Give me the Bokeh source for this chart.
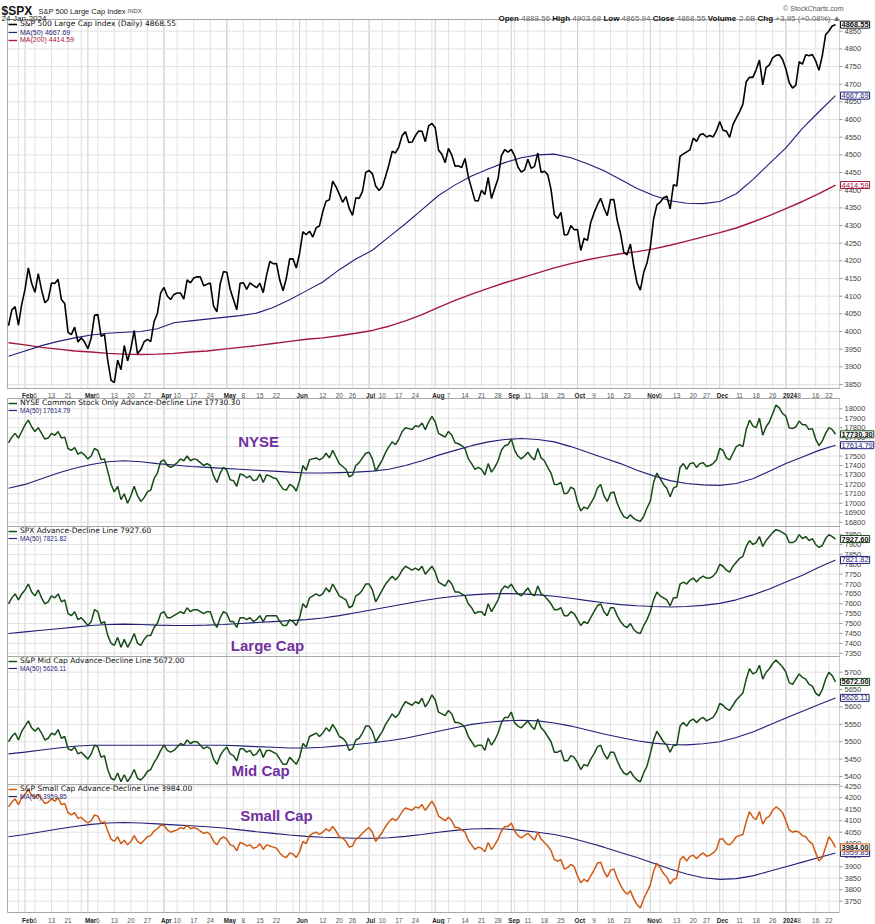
import pandas as pd
from bokeh.plotting import figure
from bokeh.models import Range1d, Label, Legend, LegendItem
from bokeh.core.properties import value
from bokeh.embed import file_html
from bokeh.resources import INLINE

# ---------------- DATA ----------------
HOLIDAYS = ["2023-02-20", "2023-04-07", "2023-05-29", "2023-06-19", "2023-07-04",
            "2023-09-04", "2023-11-23", "2023-12-25", "2024-01-01", "2024-01-15"]

spx_close = [
    4016.22, 4060.43, 4070.56, 4017.77, 4076.60,
    4119.21, 4179.76, 4136.48, 4111.08, 4164.00, 4117.86, 4081.50, 4090.46, 4137.29, 4136.13, 4147.60, 4090.41, 4079.09, 3997.34, 3991.05, 4012.32, 3970.04, 3982.24, 3970.15,
    3951.39, 3981.35, 4045.64, 4048.42, 3986.37, 3992.01, 3918.32, 3861.59, 3855.76, 3919.29, 3891.93, 3960.28, 3916.64, 3951.57, 4002.87, 3936.97, 3948.72, 3970.99, 3977.53, 3971.27, 4027.81, 4050.83, 4109.31,
    4124.51, 4100.60, 4090.38, 4105.02, 4109.11, 4108.94, 4091.95, 4146.22, 4137.64, 4151.32, 4154.87, 4154.52, 4129.79, 4133.52, 4137.04, 4071.63, 4055.99, 4135.35, 4169.48,
    4167.87, 4119.58, 4090.75, 4061.22, 4136.25, 4138.12, 4119.17, 4137.64, 4130.62, 4124.08, 4136.28, 4109.90, 4158.77, 4198.05, 4191.98, 4192.63, 4145.58, 4115.24, 4151.28, 4205.45, 4205.52, 4179.83,
    4221.02, 4282.37, 4273.79, 4283.85, 4267.52, 4293.93, 4298.86, 4338.93, 4369.01, 4372.59, 4425.84, 4409.59, 4388.71, 4365.69, 4381.89, 4348.33, 4328.82, 4378.41, 4376.86, 4396.44, 4450.38,
    4455.59, 4446.82, 4411.59, 4398.95, 4409.53, 4439.26, 4472.16, 4510.04, 4505.42, 4522.79, 4554.98, 4565.72, 4534.87, 4536.34, 4554.64, 4567.46, 4566.75, 4537.41, 4582.23, 4588.96,
    4576.73, 4513.39, 4501.89, 4478.03, 4518.44, 4499.38, 4467.71, 4468.83, 4464.05, 4489.72, 4437.86, 4404.33, 4370.36, 4369.71, 4399.77, 4387.55, 4436.01, 4376.31, 4405.71, 4433.31, 4497.63, 4514.87, 4507.66,
    4515.77, 4496.83, 4465.48, 4451.14, 4457.49, 4487.46, 4461.90, 4467.44, 4505.10, 4450.32, 4453.53, 4443.95, 4402.20, 4330.00, 4320.06, 4337.44, 4273.53, 4274.51, 4299.70, 4288.05,
    4288.39, 4229.45, 4263.75, 4258.19, 4308.50, 4335.66, 4358.24, 4376.95, 4349.61, 4327.78, 4373.63, 4373.20, 4314.60, 4278.00, 4224.16, 4217.04, 4247.68, 4186.77, 4137.23, 4117.37, 4166.82, 4193.80,
    4237.86, 4317.78, 4358.34, 4365.98, 4378.38, 4382.78, 4347.35, 4415.24, 4411.55, 4495.70, 4502.88, 4508.24, 4514.02, 4547.38, 4538.19, 4556.62, 4559.34, 4550.43, 4554.89, 4550.58, 4567.80,
    4594.63, 4569.78, 4567.18, 4549.34, 4585.59, 4604.37, 4622.44, 4643.70, 4707.09, 4719.55, 4719.19, 4740.56, 4768.37, 4698.35, 4746.75, 4754.63, 4774.75, 4781.58, 4783.35, 4769.83,
    4742.83, 4704.81, 4688.68, 4697.24, 4763.54, 4756.50, 4783.45, 4780.24, 4783.83, 4765.98, 4739.21, 4780.94, 4839.81, 4850.43, 4864.60, 4868.55]

# moving averages, read weekly (every 5th session)
spx_ma50 = [3930, 3945, 3960, 3972, 3982, 3990, 3995, 3998, 4000, 4008,
            4025, 4030, 4035, 4040, 4045, 4052, 4068, 4090, 4115, 4140,
            4175, 4205, 4230, 4268, 4305, 4345, 4385, 4415, 4440, 4460,
            4478, 4492, 4500, 4502, 4492, 4475, 4455, 4430, 4405, 4385,
            4370, 4363, 4362, 4368, 4390, 4430, 4475, 4520, 4575, 4622, 4667.69]
spx_ma200 = [3968, 3962, 3955, 3950, 3945, 3942, 3938, 3936, 3935, 3936,
             3938, 3942, 3945, 3950, 3955, 3960, 3966, 3972, 3978, 3982,
             3988, 3995, 4003, 4015, 4030, 4048, 4068, 4088, 4106, 4122,
             4138, 4152, 4166, 4180, 4192, 4203, 4212, 4220, 4226, 4234,
             4244, 4256, 4268, 4280, 4293, 4310, 4328, 4348, 4368, 4390, 4414.59]

nyse_ad = [
    17640, 17700, 17740, 17690, 17760,
    17830, 17880, 17810, 17760, 17800, 17740, 17680, 17690, 17740, 17720, 17760, 17690, 17700, 17580, 17560, 17590, 17520, 17540, 17510,
    17470, 17500, 17580, 17560, 17460, 17470, 17340, 17200, 17120, 17180, 17040, 17100, 17000, 17080, 17180, 17080, 17020, 17060, 17120, 17140, 17260, 17320, 17440,
    17460, 17400, 17380, 17400, 17430, 17470, 17450, 17500, 17450, 17470, 17460, 17430, 17400, 17420, 17400, 17290, 17220, 17320, 17380,
    17350, 17250, 17240, 17180, 17310, 17300, 17270, 17290, 17240, 17250, 17310, 17220, 17300, 17290, 17270, 17260, 17200, 17150, 17140, 17200, 17180, 17130,
    17240, 17400, 17350, 17460, 17470, 17480, 17460, 17480, 17530, 17480, 17560, 17490, 17420, 17390, 17360, 17280, 17300, 17400, 17430, 17480, 17530,
    17540, 17470, 17340, 17400, 17460, 17540, 17600, 17650, 17620, 17680, 17760, 17800, 17790, 17780, 17820, 17810, 17850, 17780, 17860, 17920,
    17860, 17740, 17720, 17700, 17760, 17720, 17640, 17630, 17610, 17580, 17470, 17420, 17360, 17380, 17360, 17300, 17420, 17330, 17380, 17450, 17560, 17610, 17620,
    17680, 17560, 17500, 17470, 17500, 17540, 17490, 17460, 17580, 17480, 17450, 17380, 17320, 17200, 17200, 17220, 17100, 17110, 17170, 17150,
    17010, 16920, 16960, 16940, 17000, 17060, 17160, 17200, 17080, 17020, 17110, 17120, 17000, 16920, 16860, 16840, 16880, 16840, 16820, 16810, 16860, 16950,
    17020, 17220, 17320, 17260, 17200, 17160, 17070, 17160, 17180, 17380, 17420, 17360, 17420, 17430, 17380, 17420, 17430, 17390, 17400, 17420, 17460,
    17580, 17560, 17480, 17460, 17530, 17600, 17620, 17600, 17780, 17880, 17820, 17800, 17900, 17720, 17810, 17860, 17950, 18040, 18010, 17950,
    17920, 17800, 17790, 17810, 17870, 17830, 17830, 17780, 17790, 17680, 17610, 17660, 17740, 17800, 17780, 17730.30]
nyse_ma50 = [17160, 17200, 17260, 17320, 17370, 17410, 17440, 17450, 17440, 17420,
             17405, 17390, 17380, 17370, 17360, 17350, 17340, 17330, 17320, 17320,
             17325, 17330, 17340, 17360, 17400, 17450, 17510, 17560, 17610, 17650,
             17675, 17685, 17675, 17650, 17600, 17540, 17480, 17420, 17350, 17290,
             17240, 17210, 17195, 17190, 17210, 17260, 17340, 17420, 17490, 17560, 17614.79]

spx_ad = [
    7600, 7630, 7650, 7620, 7650,
    7670, 7700, 7660, 7640, 7670, 7630, 7600, 7610, 7640, 7630, 7650, 7610, 7620, 7550, 7540, 7560, 7520, 7530, 7510,
    7490, 7510, 7570, 7560, 7500, 7510, 7440, 7400, 7390, 7430, 7380, 7420, 7380, 7410, 7450, 7400, 7390, 7420, 7440, 7440, 7480, 7500, 7550,
    7560, 7530, 7530, 7540, 7550, 7560, 7550, 7580, 7560, 7570, 7570, 7560, 7550, 7560, 7560, 7510, 7480, 7530, 7560,
    7550, 7510, 7510, 7480, 7530, 7530, 7520, 7530, 7510, 7520, 7540, 7510, 7540, 7540, 7540, 7540, 7510, 7490, 7490, 7520, 7510, 7490,
    7530, 7600, 7580, 7630, 7640, 7650, 7640, 7650, 7680, 7660, 7700, 7670, 7640, 7630, 7620, 7580, 7590, 7640, 7650, 7670, 7700,
    7700, 7670, 7610, 7640, 7670, 7700, 7720, 7740, 7720, 7740, 7770, 7790, 7780, 7770, 7780, 7770, 7790, 7750, 7770, 7790,
    7760, 7710, 7700, 7690, 7720, 7700, 7660, 7660, 7650, 7640, 7600, 7580, 7550, 7560, 7560, 7540, 7600, 7560, 7590, 7620, 7670, 7690, 7680,
    7700, 7670, 7650, 7640, 7660, 7680, 7650, 7640, 7690, 7650, 7640, 7620, 7600, 7570, 7570, 7580, 7540, 7540, 7560, 7550,
    7520, 7490, 7510, 7500, 7530, 7560, 7590, 7600, 7560, 7540, 7580, 7580, 7540, 7510, 7490, 7480, 7500, 7470, 7455, 7450, 7490, 7520,
    7560, 7620, 7660, 7640, 7630, 7620, 7590, 7630, 7630, 7700, 7710, 7700, 7720, 7730, 7710, 7730, 7740, 7730, 7730, 7740, 7760,
    7800, 7790, 7770, 7760, 7790, 7810, 7830, 7840, 7890, 7920, 7900, 7910, 7940, 7890, 7920, 7940, 7960, 7975, 7970, 7960,
    7950, 7910, 7910, 7920, 7950, 7930, 7940, 7920, 7930, 7900, 7885, 7895, 7930, 7950, 7940, 7927.60]
spx_ad_ma50 = [7450, 7458, 7466, 7474, 7482, 7490, 7495, 7497, 7495, 7492,
               7490, 7490, 7492, 7495, 7500, 7505, 7510, 7515, 7520, 7528,
               7540, 7555, 7570, 7585, 7600, 7615, 7628, 7638, 7645, 7650,
               7652, 7650, 7645, 7638, 7628, 7616, 7605, 7596, 7590, 7586,
               7584, 7586, 7592, 7602, 7620, 7645, 7675, 7710, 7745, 7785, 7821.82]

mid_ad = [
    5500, 5515, 5525, 5505, 5530,
    5545, 5560, 5540, 5530, 5540, 5525, 5505, 5510, 5525, 5520, 5535, 5510, 5515, 5480, 5475, 5485, 5465, 5470, 5460,
    5450, 5465, 5490, 5485, 5455, 5460, 5420, 5395, 5390, 5410, 5385, 5405, 5385, 5400, 5420, 5395, 5390, 5400, 5415, 5420, 5440, 5455, 5475,
    5490, 5475, 5470, 5475, 5485, 5495, 5490, 5505, 5495, 5500, 5500, 5490, 5480, 5485, 5480, 5450, 5435, 5460, 5475,
    5485, 5465, 5460, 5445, 5480, 5480, 5470, 5475, 5460, 5465, 5480, 5455, 5475, 5475, 5470, 5465, 5450, 5435, 5435, 5455, 5445, 5435,
    5455, 5495, 5485, 5515, 5520, 5525, 5515, 5525, 5540, 5530, 5550, 5535, 5515, 5510, 5500, 5475, 5480, 5505, 5510, 5525, 5545,
    5545, 5530, 5500, 5515, 5530, 5550, 5565, 5580, 5570, 5580, 5600, 5615, 5610, 5605, 5615, 5610, 5625, 5600, 5615, 5635,
    5620, 5585, 5580, 5575, 5590, 5580, 5555, 5555, 5550, 5540, 5515, 5500, 5485, 5490, 5490, 5475, 5510, 5490, 5505, 5525, 5555, 5570, 5570,
    5585, 5555, 5545, 5540, 5550, 5560, 5545, 5535, 5565, 5540, 5530, 5515, 5500, 5470, 5470, 5475, 5445, 5445, 5460, 5455,
    5440, 5420, 5435, 5430, 5450, 5465, 5485, 5490, 5465, 5450, 5470, 5470, 5445, 5425, 5410, 5405, 5415, 5400, 5390, 5385, 5410, 5430,
    5465, 5505, 5530, 5515, 5500, 5490, 5470, 5490, 5490, 5545, 5555, 5545, 5560, 5565, 5555, 5565, 5570, 5560, 5565, 5570, 5585,
    5610, 5605, 5595, 5590, 5605, 5620, 5630, 5640, 5680, 5710, 5695, 5700, 5720, 5680, 5700, 5710, 5725, 5735, 5725, 5715,
    5700, 5670, 5665, 5680, 5695, 5685, 5680, 5665, 5660, 5640, 5632, 5650, 5680, 5700, 5690, 5672.00]
mid_ma50 = [5465, 5470, 5476, 5482, 5487, 5490, 5490, 5490, 5490, 5490,
            5490, 5490, 5490, 5490, 5488, 5486, 5484, 5482, 5482, 5484,
            5488, 5492, 5497, 5503, 5510, 5520, 5530, 5540, 5550, 5556,
            5560, 5562, 5560, 5554, 5545, 5534, 5522, 5512, 5503, 5496,
            5492, 5491, 5494, 5500, 5512, 5528, 5548, 5568, 5588, 5607, 5626.11]

small_ad = [
    4160, 4180, 4195, 4170, 4200,
    4215, 4235, 4210, 4200, 4215, 4195, 4175, 4180, 4195, 4185, 4200, 4170, 4175, 4135, 4125, 4135, 4110, 4115, 4100,
    4090, 4100, 4125, 4120, 4090, 4095, 4055, 4020, 4010, 4030, 4000, 4015, 3995, 4010, 4035, 4010, 4000, 4015, 4030, 4035, 4055, 4065, 4080,
    4080, 4060, 4050, 4055, 4060, 4070, 4065, 4080, 4065, 4070, 4065, 4055, 4045, 4050, 4040, 4010, 3995, 4020, 4030,
    4020, 3995, 3990, 3970, 4005, 4000, 3990, 3995, 3980, 3985, 4000, 3975, 3995, 3990, 3985, 3980, 3960, 3945, 3940, 3960, 3955, 3940,
    3965, 4010, 4000, 4035, 4045, 4050, 4040, 4050, 4065, 4055, 4075, 4055, 4030, 4025, 4010, 3985, 3990, 4020, 4030, 4045, 4060,
    4070, 4050, 4010, 4030, 4050, 4075, 4095, 4110, 4100, 4115, 4140, 4155, 4150, 4145, 4160, 4155, 4170, 4145, 4165, 4185,
    4160, 4120, 4110, 4100, 4115, 4100, 4070, 4070, 4060, 4050, 4015, 3995, 3975, 3985, 3980, 3965, 4005, 3975, 3995, 4020, 4055, 4075, 4075,
    4090, 4055, 4035, 4025, 4035, 4045, 4030, 4015, 4050, 4020, 4005, 3990, 3970, 3930, 3925, 3930, 3890, 3895, 3910, 3900,
    3860, 3830, 3845, 3835, 3860, 3885, 3915, 3920, 3880, 3855, 3885, 3890, 3850, 3820, 3795, 3780, 3795, 3760, 3735, 3720, 3760, 3790,
    3820, 3880, 3915, 3895, 3870, 3855, 3825, 3845, 3850, 3930, 3945, 3925, 3945, 3950, 3935, 3950, 3960, 3945, 3950, 3960, 3975,
    4020, 4020, 4000, 3995, 4010, 4030, 4035, 4040, 4095, 4140, 4115, 4105, 4140, 4085, 4110, 4120, 4145, 4160, 4150, 4135,
    4100, 4060, 4050, 4055, 4050, 4035, 4030, 4010, 4000, 3960, 3925, 3940, 3985, 4030, 4010, 3984.00]
small_ma50 = [4030, 4040, 4052, 4064, 4075, 4084, 4090, 4092, 4090, 4086,
              4082, 4078, 4074, 4068, 4060, 4052, 4045, 4038, 4032, 4028,
              4026, 4024, 4024, 4026, 4032, 4040, 4050, 4058, 4064, 4066,
              4064, 4058, 4050, 4040, 4025, 4005, 3985, 3962, 3940, 3915,
              3890, 3868, 3852, 3845, 3848, 3860, 3880, 3900, 3920, 3940, 3959.85]

month_tick_dates = ["2023-02-01", "2023-03-01", "2023-04-03", "2023-05-01", "2023-06-01", "2023-07-03",
                    "2023-08-01", "2023-09-01", "2023-10-02", "2023-11-01", "2023-12-01", "2024-01-02"]
month_tick_labels = ["Feb", "Mar", "Apr", "May", "Jun", "Jul", "Aug", "Sep", "Oct", "Nov", "Dec", "2024"]
day_tick_dates = ["2023-02-06", "2023-02-13", "2023-02-21", "2023-03-06", "2023-03-13", "2023-03-20", "2023-03-27",
                  "2023-04-10", "2023-04-17", "2023-04-24", "2023-05-08", "2023-05-15", "2023-05-22",
                  "2023-06-12", "2023-06-20", "2023-06-26", "2023-07-10", "2023-07-17", "2023-07-24",
                  "2023-08-07", "2023-08-14", "2023-08-21", "2023-08-28", "2023-09-11", "2023-09-18", "2023-09-25",
                  "2023-10-09", "2023-10-16", "2023-10-23", "2023-11-06", "2023-11-13", "2023-11-20", "2023-11-27",
                  "2023-12-11", "2023-12-18", "2023-12-26", "2024-01-08", "2024-01-16", "2024-01-22"]
day_tick_labels = ["6", "13", "21", "6", "13", "20", "27", "10", "17", "24", "8", "15", "22",
                   "12", "20", "26", "10", "17", "24", "7", "14", "21", "28", "11", "18", "25",
                   "9", "16", "23", "6", "13", "20", "27", "11", "18", "26", "8", "16", "22"]

spx_yticks = list(range(3850, 4851, 50))
nyse_yticks = list(range(16800, 18001, 100))
spxad_yticks = list(range(7350, 7951, 50))
mid_yticks = list(range(5400, 5701, 50))
small_yticks = list(range(3750, 4251, 50))

# ---------------- LAYOUT / STYLE ----------------
FONT = "Liberation Sans"
GREEN = "#174a17"
NAVY = "#1f1f78"
MAROON = "#a3183c"
ORANGE = "#cf5a12"
PURPLE = "#7030a0"
GRID = "#e2e2e2"
MGRID = "#cdcdcd"
BORDER = "#a8a8a8"

W, H = 875, 924
PL, PR = 7, 839                      # plot area, canvas px
X_START, X_END = -0.3, 251.2         # session index at plot edges
XS = (PR - PL) / (X_END - X_START)   # px per session
X_LEFT = X_START - PL / XS
X_RIGHT = X_LEFT + W / XS


def xpx(px):
    return X_LEFT + px / XS


# panel bands: (top px, bottom px, upper tick value, its px, lower tick value, its px)
BANDS = {
    "spx":   (19, 388, 4850, 30.7, 3850, 384.0),
    "nyse":  (398, 526, 18000, 408.3, 16800, 521.7),
    "spxad": (526, 656, 7900, 544.0, 7350, 652.7),
    "mid":   (656, 784, 5700, 671.7, 5400, 776.0),
    "small": (784, 912, 4250, 785.7, 3750, 900.7),
}

trade_dates = [d for d in pd.bdate_range("2023-01-25", "2024-01-24") if d.strftime("%Y-%m-%d") not in HOLIDAYS]
N = len(trade_dates)
pos = {d.strftime("%Y-%m-%d"): i for i, d in enumerate(trade_dates)}
xi = list(range(N))
ma_x = list(range(0, N, 5))
week_grid = [i for i in range(1, N) if trade_dates[i].weekday() < trade_dates[i - 1].weekday()]
month_grid = [i for i in range(1, N) if trade_dates[i].month != trade_dates[i - 1].month]

extra = {}
for name, (top, bot, vh, ph, vl, pl) in BANDS.items():
    s = (pl - ph) / (vh - vl)
    extra[name] = Range1d(vl - (H - pl) / s, vh + ph / s)

p = figure(frame_width=W, frame_height=H, x_range=Range1d(X_LEFT, X_RIGHT), y_range=Range1d(H, 0),
           x_axis_type=None, y_axis_type=None, output_backend="svg", toolbar_location=None, min_border=0)
p.extra_y_ranges = extra
p.outline_line_color = None
p.background_fill_color = "white"
p.border_fill_color = "white"

# grids and borders
for name, (top, bot, vh, ph, vl, pl) in BANDS.items():
    p.segment(x0=week_grid, x1=week_grid, y0=[top] * len(week_grid), y1=[bot] * len(week_grid),
              line_color=GRID, line_width=1)
    p.segment(x0=month_grid, x1=month_grid, y0=[top] * len(month_grid), y1=[bot] * len(month_grid),
              line_color=MGRID, line_width=1)

TICKS = {"spx": spx_yticks, "nyse": nyse_yticks, "spxad": spxad_yticks, "mid": mid_yticks, "small": small_yticks}
for name, ticks in TICKS.items():
    n = len(ticks)
    p.segment(x0=[X_START] * n, x1=[X_END] * n, y0=ticks, y1=ticks, y_range_name=name,
              line_color=GRID, line_width=1)
    p.segment(x0=[X_END] * n, x1=[X_END + 3 / XS] * n, y0=ticks, y1=ticks, y_range_name=name,
              line_color="#999999", line_width=1)
    p.text(x=[X_END + 5 / XS] * n, y=ticks, text=[str(t) for t in ticks], y_range_name=name,
           text_font=value(FONT), text_font_size="7.5px", text_color="#444444",
           text_baseline="middle", text_align="left")

for name, (top, bot, vh, ph, vl, pl) in BANDS.items():
    p.segment(x0=[X_START, X_START, X_START], x1=[X_END, X_END, X_START],
              y0=[top, bot, top], y1=[top, bot, bot], line_color=BORDER, line_width=1)
    p.segment(x0=[X_END], x1=[X_END], y0=[top], y1=[bot], line_color="#9a9a9a",
              line_width=1, line_dash="1 1")


def legend_row(renderer, label, color, font, size, center):
    row_h = 8
    leg = Legend(items=[LegendItem(label=value(label), renderers=[renderer])],
                 location=(PL + 1, H - center - row_h / 2), orientation="vertical",
                 padding=0, spacing=0, margin=0, glyph_width=9, glyph_height=row_h,
                 label_height=row_h, label_standoff=3, label_text_font=font,
                 label_text_font_size=size, label_text_color=color,
                 background_fill_alpha=0, border_line_color=None)
    p.add_layout(leg)


def tag(name, yv, text, border, color, bold):
    p.add_layout(Label(x=X_END, y=yv, x_offset=1, y_range_name=name, text=text, text_font=FONT,
                       text_font_size="7.5px", text_font_style="bold" if bold else "normal",
                       text_color=color, text_baseline="middle", text_align="left",
                       background_fill_color="white", border_line_color=border,
                       border_line_width=1, padding=1))


def big_label(x, ypx, text):
    p.add_layout(Label(x=x, y=ypx, text=text, text_font=FONT, text_font_size="15px",
                       text_font_style="bold", text_color=PURPLE, text_align="center",
                       text_baseline="middle"))


# ---------------- PANEL 1: SPX ----------------
r200 = p.line(ma_x, spx_ma200, y_range_name="spx", line_color=MAROON, line_width=1.4)
r50 = p.line(ma_x, spx_ma50, y_range_name="spx", line_color=NAVY, line_width=1.1)
rs = p.line(xi, spx_close, y_range_name="spx", line_color="black", line_width=1.6)
legend_row(rs, "S&P 500 Large Cap Index (Daily) 4868.55", "#111111", "DejaVu Sans", "7.5px", 24)
legend_row(r50, "MA(50) 4667.69", NAVY, FONT, "7px", 32)
legend_row(r200, "MA(200) 4414.59", MAROON, FONT, "7px", 39.5)
tag("spx", spx_ma200[-1], "4414.59", MAROON, MAROON, False)
tag("spx", spx_ma50[-1], "4667.69", NAVY, NAVY, False)
tag("spx", spx_close[-1], "4868.55", "#111111", "#111111", True)

# ---------------- PANEL 2: NYSE ----------------
m2 = p.line(ma_x, nyse_ma50, y_range_name="nyse", line_color=NAVY, line_width=1.1)
l2 = p.line(xi, nyse_ad, y_range_name="nyse", line_color=GREEN, line_width=1.5)
legend_row(l2, "NYSE Common Stock Only Advance-Decline Line 17730.30", "#111111", "DejaVu Sans", "7.5px", 403)
legend_row(m2, "MA(50) 17614.79", NAVY, FONT, "6.5px", 410)
tag("nyse", nyse_ma50[-1], "17614.79", NAVY, NAVY, False)
tag("nyse", nyse_ad[-1], "17730.30", GREEN, "#111111", True)
big_label(75.6, 441, "NYSE")

# ---------------- PANEL 3: SPX A/D ----------------
m3 = p.line(ma_x, spx_ad_ma50, y_range_name="spxad", line_color=NAVY, line_width=1.1)
l3 = p.line(xi, spx_ad, y_range_name="spxad", line_color=GREEN, line_width=1.5)
legend_row(l3, "SPX Advance-Decline Line 7927.60", "#111111", "DejaVu Sans", "7.5px", 531)
legend_row(m3, "MA(50) 7821.82", NAVY, FONT, "6.5px", 538)
tag("spxad", spx_ad_ma50[-1], "7821.82", NAVY, NAVY, False)
tag("spxad", spx_ad[-1], "7927.60", GREEN, "#111111", True)
big_label(78.3, 645, "Large Cap")

# ---------------- PANEL 4: Mid Cap A/D ----------------
m4 = p.line(ma_x, mid_ma50, y_range_name="mid", line_color=NAVY, line_width=1.1)
l4 = p.line(xi, mid_ad, y_range_name="mid", line_color=GREEN, line_width=1.5)
legend_row(l4, "S&P Mid Cap Advance-Decline Line 5672.00", "#111111", "DejaVu Sans", "7.5px", 661)
legend_row(m4, "MA(50) 5626.11", NAVY, FONT, "6.5px", 668)
tag("mid", mid_ma50[-1], "5626.11", NAVY, NAVY, False)
tag("mid", mid_ad[-1], "5672.00", GREEN, "#111111", True)
big_label(76.2, 770, "Mid Cap")

# ---------------- PANEL 5: Small Cap A/D ----------------
m5 = p.line(ma_x, small_ma50, y_range_name="small", line_color=NAVY, line_width=1.1)
l5 = p.line(xi, small_ad, y_range_name="small", line_color=ORANGE, line_width=1.5)
legend_row(l5, "S&P Small Cap Advance-Decline Line 3984.00", "#111111", "DejaVu Sans", "7.5px", 789)
legend_row(m5, "MA(50) 3959.85", NAVY, FONT, "6.5px", 796)
tag("small", small_ma50[-1], "3959.85", NAVY, NAVY, False)
tag("small", small_ad[-1], "3984.00", ORANGE, "#111111", True)
big_label(81, 815, "Small Cap")

# ---------------- DATE LABELS (two rows) ----------------
mx = [pos[d] for d in month_tick_dates]
dx = [pos[d] for d in day_tick_dates]
for base in (395.3, 919.8):
    p.text(x=mx, y=[base] * len(mx), text=month_tick_labels, x_offset=-3, text_font=value(FONT),
           text_font_style="bold", text_font_size="6.3px", text_color="#222222",
           text_baseline="alphabetic", text_align="left")
    p.text(x=dx, y=[base] * len(dx), text=day_tick_labels, text_font=value(FONT),
           text_font_size="6.5px", text_color="#555555", text_baseline="alphabetic", text_align="center")

# ---------------- HEADER ----------------
p.text(x=[xpx(1)], y=[10.7], text=["$SPX"], text_font=value(FONT), text_font_style="bold",
       text_font_size="12px", text_baseline="alphabetic", text_color="#111111")
p.text(x=[xpx(38)], y=[10.5], text=["S&P 500 Large Cap Index"], text_font=value(FONT),
       text_font_size="7.5px", text_baseline="alphabetic", text_color="#222222")
p.text(x=[xpx(127)], y=[10.5], text=["INDX"], text_font=value(FONT),
       text_font_size="6px", text_baseline="alphabetic", text_color="#444444")
p.text(x=[xpx(1)], y=[18.2], text=["24-Jan-2024"], text_font=value(FONT),
       text_font_size="8px", text_baseline="alphabetic", text_color="#222222")
p.text(x=[xpx(843)], y=[8.4], text=["© StockCharts.com"], text_font=value(FONT),
       text_font_size="7px", text_baseline="alphabetic", text_align="right", text_color="#555555")
p.text(x=[xpx(v) for v in (498, 551.8, 602.9, 652.2, 707.3, 757)], y=[18.2] * 6,
       text=["Open", "High", "Low", "Close", "Volume", "Chg"], text_font=value(FONT),
       text_font_style="bold", text_font_size="8px", text_baseline="alphabetic", text_color="#111111")
p.text(x=[xpx(v) for v in (520.7, 571.8, 621.1, 676.2, 738.4, 774.8)], y=[18.2] * 6,
       text=["4888.56", "4903.68", "4865.94", "4868.55", "2.6B", "+3.95 (+0.08%) ▲"],
       text_font=value(FONT), text_font_size="8px", text_baseline="alphabetic", text_color="#666666")

open("out.html", "w").write(file_html(p, INLINE))
